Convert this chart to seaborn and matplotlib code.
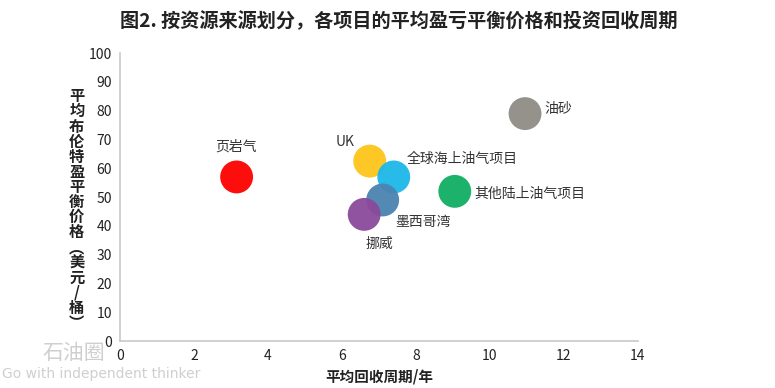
import matplotlib
matplotlib.use("Agg")
import matplotlib.pyplot as plt
import seaborn as sns
import pandas as pd

projects = ["页岩气", "UK", "全球海上油气项目", "墨西哥湾", "挪威", "其他陆上油气项目", "油砂"]
payback_years = [3.15, 6.75, 7.4, 7.1, 6.6, 9.05, 10.95]
breakeven_price = [57, 62.5, 57, 49, 44, 52, 79]
colors = ["#fe0000", "#fdc41a", "#1cb8e8", "#4b83b0", "#8a4a9b", "#10ae63", "#8f8c86"]
# label offsets in points (dx, dy) and alignment
label_pos = [(0, 22, "center"), (-18, 14, "center"), (9, 13, "left"),
             (9, -16, "left"), (1, -21, "left"), (14, -2, "left"), (14, 3, "left")]

df = pd.DataFrame({"项目": projects, "x": payback_years, "y": breakeven_price})

sns.set_theme(style="white")
plt.rcParams["font.family"] = ["Noto Sans CJK SC", "DejaVu Sans"]

fig = plt.figure(figsize=(7.75, 3.88), dpi=100)
ax = fig.add_axes([0.155, 0.121, 0.668, 0.742])

sns.scatterplot(data=df, x="x", y="y", hue="项目", palette=colors, s=560,
                alpha=0.95, edgecolor="none", legend=False, ax=ax, zorder=3)

for (name, x, y), (dx, dy, ha) in zip(zip(projects, payback_years, breakeven_price), label_pos):
    ax.annotate(name, (x, y), xytext=(dx, dy), textcoords="offset points",
                ha=ha, va="center", fontsize=10, color="#333333")

ax.set_xlim(0, 14)
ax.set_ylim(0, 100)
ax.set_xticks(range(0, 15, 2))
ax.set_yticks(range(0, 101, 10))
ax.tick_params(axis="both", length=0, labelsize=10, colors="#222222", pad=6)
for sp in ["top", "right"]:
    ax.spines[sp].set_visible(False)
for sp in ["left", "bottom"]:
    ax.spines[sp].set_color("#c8c8c8")
    ax.spines[sp].set_linewidth(1.2)

ax.set_xlabel("平均回收周期/年", fontsize=10.5, fontweight="bold", color="#222222", labelpad=4)
ax.set_ylabel("")
ylab = "平均布伦特盈平衡价格︵美元/桶︶"
fig.text(0.099, 0.46, "\n".join(ylab), fontsize=11, fontweight="bold", color="#222222",
         ha="center", va="center", linespacing=0.93)

fig.text(0.515, 0.945, "图2. 按资源来源划分，各项目的平均盈亏平衡价格和投资回收周期",
         fontsize=13.8, fontweight="bold", color="#222222", ha="center", va="center")

# watermark
fig.text(0.055, 0.09, "石油圈", fontsize=15, color="#cfcfcf", ha="left", va="center")
fig.text(0.003, 0.035, "Go with independent thinker", fontsize=10, color="#cfcfcf",
         ha="left", va="center", family="DejaVu Sans")

fig.savefig("out.png", dpi=100)
